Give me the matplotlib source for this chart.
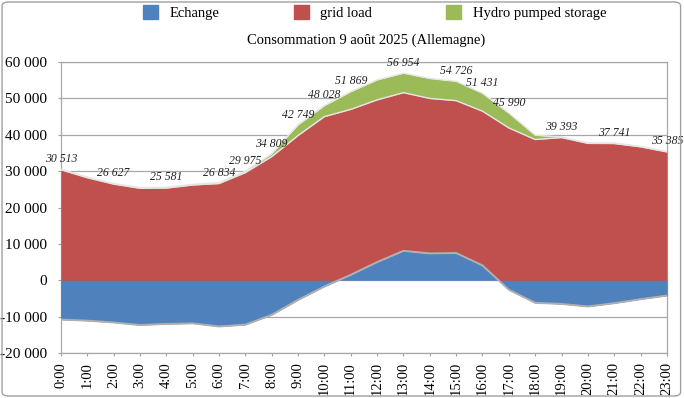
import numpy as np
import matplotlib
matplotlib.use("Agg")
import matplotlib.pyplot as plt
from matplotlib.ticker import FuncFormatter, MultipleLocator
from matplotlib.patches import FancyBboxPatch, Patch

hours = ["%d:00" % h for h in range(24)]

# MW per hour
echange = [-10800, -11100, -11600, -12300, -12000, -11850, -12700, -12200,
           -9500, -5400, -1700, 1500, 5000, 8100, 7400, 7500,
           4100, -2600, -6200, -6500, -7200, -6300, -5200, -4200]
grid_load = [41200, 39300, 38050, 37600, 37350, 38050, 39300, 41800,
             43500, 45200, 46700, 45500, 44600, 43500, 42600, 41900,
             42400, 44500, 44900, 45750, 44850, 43900, 41900, 39500]
hydro = [113, 200, 177, 200, 231, 200, 234, 375,
         809, 2949, 3028, 4869, 5500, 5354, 5500, 5326,
         4931, 4090, 1200, 143, 150, 141, 100, 85]

# hours that carry a total label
labelled = [0, 2, 4, 6, 7, 8, 9, 10, 11, 13, 15, 16, 17, 19, 21, 23]

c_blue = "#4F81BD"
c_red = "#C0504D"
c_green = "#9BBB59"

plt.rcParams["font.family"] = ["Liberation Serif", "DejaVu Serif"]

x = np.arange(len(hours))
e = np.array(echange, dtype=float)
red_top = e + np.array(grid_load)
total = red_top + np.array(hydro)

fig = plt.figure(figsize=(6.84, 3.98), dpi=100)
ax = fig.add_axes([0.089, 0.113, 0.886, 0.731])

# excel style stacking: exchange drawn in front of the load
ax.fill_between(x, red_top, total, color=c_green, lw=0, zorder=2)
ax.fill_between(x, e, red_top, color=c_red, lw=0, zorder=3)
ax.fill_between(x, 0, e, color=c_blue, lw=0, zorder=4)
ax.plot(x, total, color="#E6E6E6", lw=1.0, zorder=5)
ax.plot(x, red_top, color="#E6E6E6", lw=1.0, zorder=5)
ax.plot(x, e, color="#B0B0B0", lw=1.4, zorder=5)

for i in labelled:
    txt = "{:,}".format(int(round(total[i]))).replace(",", " ")
    ax.annotate(txt, (x[i], total[i]), xytext=(0, 3), textcoords="offset points",
                ha="center", va="bottom", fontsize=8.5, style="italic",
                color="#222222", zorder=6, annotation_clip=False)

ax.set_xlim(0, 23)
ax.set_ylim(-20000, 60000)
ax.yaxis.set_major_locator(MultipleLocator(10000))
ax.yaxis.set_major_formatter(FuncFormatter(
    lambda v, p: "{:,}".format(int(v)).replace(",", " ")))
ax.set_xticks(x)
ax.set_xticklabels(hours, rotation=90, fontsize=10.5)
ax.tick_params(axis="y", labelsize=11, length=2, color="#A0A0A0", pad=8)
ax.tick_params(axis="x", length=2, color="#A0A0A0", pad=4.5)
ax.grid(axis="y", color="#A8A8A8", lw=0.9, zorder=0)
ax.set_axisbelow(True)
for s in ax.spines.values():
    s.set_color("#A8A8A8")
    s.set_linewidth(0.9)

fig.text(0.535, 0.899, "Consommation 9 août 2025 (Allemagne)", ha="center",
         va="center", fontsize=10.5)

handles = [Patch(color=c_blue, label="Echange"),
           Patch(color=c_red, label="grid load"),
           Patch(color=c_green, label="Hydro pumped storage")]
fig.legend(handles=handles, loc="center", bbox_to_anchor=(0.548, 0.968), ncol=3,
           frameon=False, fontsize=10.5, handlelength=1.0, handleheight=1.0,
           handletextpad=0.8, columnspacing=5.1)

fig.patches.append(FancyBboxPatch((0.003, 0.005), 0.992, 0.99,
                                  boxstyle="round,pad=0,rounding_size=0.01",
                                  transform=fig.transFigure, fill=False,
                                  edgecolor="#A0A0A0", lw=1.0))

fig.savefig("out.png", dpi=100)
